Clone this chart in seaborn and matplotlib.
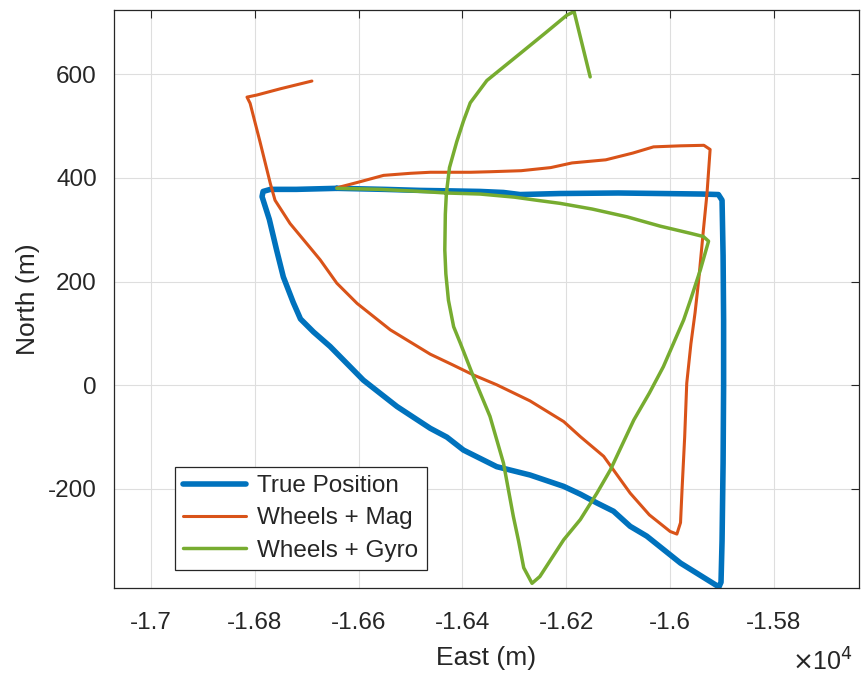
import matplotlib
matplotlib.use('Agg')
import matplotlib.pyplot as plt
import pandas as pd
import seaborn as sns
from matplotlib.ticker import FuncFormatter

# Traced trajectories (East, North) in metres
true_east = [-16642, -16550, -16482, -16420, -16366, -16321, -16289, -16250, -16212, -16100,
             -16019, -15940, -15907, -15900, -15898, -15897, -15897, -15898, -15900, -15902,
             -15906, -15980, -16045, -16077, -16109, -16141, -16173, -16205, -16270, -16334,
             -16398, -16430, -16462, -16526, -16591, -16655, -16687, -16712, -16726, -16745,
             -16758, -16772, -16786, -16784, -16770, -16720, -16642]
true_north = [380, 378, 376, 375, 374, 372, 368, 369, 370, 371,
              370, 369, 368, 357, 250, 126, 0, -150, -300, -380,
              -389, -343, -291, -272, -243, -227, -210, -195, -173, -157,
              -125, -100, -83, -41, 10, 75, 103, 128, 160, 209,
              261, 320, 364, 374, 378, 378, 380]

mag_east = [-16642, -16600, -16552, -16500, -16462, -16384, -16347, -16287, -16230, -16189,
            -16124, -16072, -16032, -15980, -15935, -15923, -15929, -15936, -15945, -15952,
            -15960, -15968, -15972, -15977, -15980, -15987, -16000, -16040, -16077, -16128,
            -16173, -16205, -16270, -16334, -16379, -16420, -16462, -16539, -16603, -16642,
            -16674, -16693, -16732, -16761, -16770, -16790, -16809, -16815, -16796, -16751,
            -16690]
mag_north = [381, 392, 405, 409, 411, 411, 412, 414, 420, 429,
             435, 448, 460, 462, 463, 455, 370, 299, 203, 140,
             80, 4, -100, -200, -265, -287, -282, -250, -208, -137,
             -99, -70, -30, 1, 20, 40, 60, 107, 158, 197,
             242, 265, 312, 357, 389, 470, 544, 556, 560, 572,
             587]

gyro_east = [-16642, -16559, -16480, -16431, -16366, -16300, -16257, -16212, -16150, -16083,
             -16019, -15960, -15936, -15926, -15942, -15961, -15974, -16013, -16040, -16070,
             -16115, -16141, -16173, -16205, -16251, -16266, -16282, -16292, -16302, -16321,
             -16347, -16379, -16404, -16417, -16427, -16432, -16434, -16433, -16431, -16425,
             -16411, -16398, -16385, -16353, -16289, -16240, -16199, -16185, -16170, -16154]
gyro_north = [380, 378, 374, 371, 369, 363, 357, 351, 340, 325,
              307, 293, 287, 278, 222, 164, 126, 36, -15, -67,
              -163, -208, -259, -298, -369, -382, -352, -300, -253, -150,
              -60, 17, 81, 113, 164, 215, 261, 330, 370, 420,
              470, 510, 545, 588, 640, 680, 714, 721, 660, 595]

series_names = ['True Position', 'Wheels + Mag', 'Wheels + Gyro']
x_ticks = [-17000, -16800, -16600, -16400, -16200, -16000, -15800]
y_ticks = [-200, 0, 200, 400, 600]

sns.set_style('white')
plt.rcParams['font.family'] = ['Liberation Sans', 'DejaVu Sans']
plt.rcParams['axes.unicode_minus'] = False

fig = plt.figure(figsize=(8.63, 6.77), dpi=100)
ax = fig.add_axes([0.1316, 0.1315, 0.8633, 0.8537])

styles = [('#0072BD', 4.0), ('#D95319', 2.2), ('#77AC30', 2.5)]
data = [(true_east, true_north), (mag_east, mag_north), (gyro_east, gyro_north)]
for (e, n), name, (col, lw) in zip(data, series_names, styles):
    df = pd.DataFrame({'east': e, 'north': n})
    sns.lineplot(data=df, x='east', y='north', sort=False, estimator=None,
                 color=col, linewidth=lw, label=name, ax=ax,
                 solid_joinstyle='round', solid_capstyle='round')

ax.set_xlim(-17072, -15637)
ax.set_ylim(-391, 724)
ax.set_xticks(x_ticks)
ax.set_yticks(y_ticks)
ax.xaxis.set_major_formatter(FuncFormatter(lambda v, p: f'{v / 1e4:g}'))
ax.grid(True, color='#dedede', linewidth=0.8)
ax.set_axisbelow(True)
ax.tick_params(direction='in', length=6, width=0.8, top=True, right=True,
               labelsize=17.5, colors='#262626')
ax.tick_params(axis='x', pad=17)
ax.tick_params(axis='y', pad=12)
for s in ax.spines.values():
    s.set_color('#262626')
    s.set_linewidth(0.9)

ax.set_xlabel('East (m)', fontsize=19, color='#262626', labelpad=9)
ax.set_ylabel('North (m)', fontsize=19, color='#262626', labelpad=6)
ax.text(0.993, -0.128, r'$\times$10$^{4}$', transform=ax.transAxes, fontsize=18,
        color='#262626', ha='right', va='center')

leg = ax.legend(loc='lower left', bbox_to_anchor=(0.082, 0.031), borderaxespad=0,
                fontsize=17.5, frameon=True, fancybox=False, framealpha=1,
                edgecolor='#262626', handlelength=2.6, handletextpad=0.45,
                labelspacing=0.42, borderpad=0.35)
leg.get_frame().set_linewidth(0.9)

fig.savefig('out.png', dpi=100)
